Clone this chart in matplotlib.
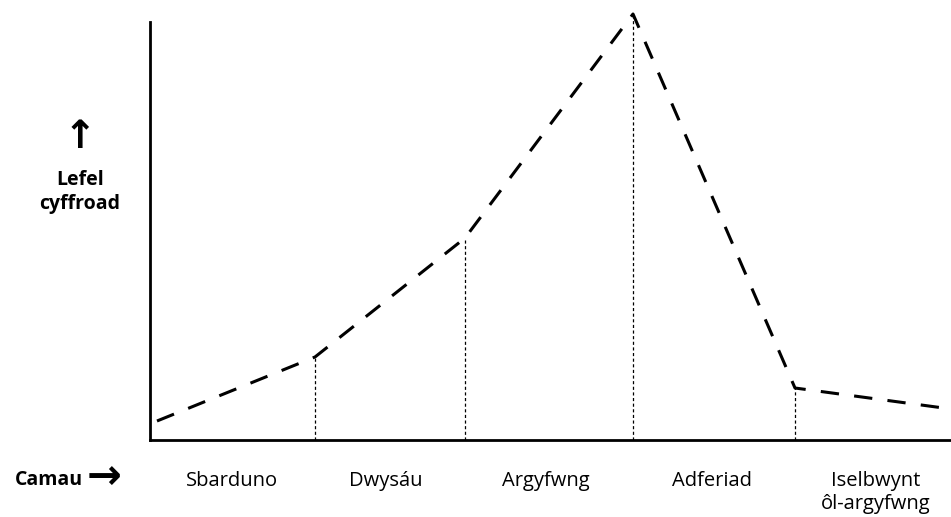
import matplotlib.pyplot as plt

# stage labels and the level curve (x, y)
stages = ["Sbarduno", "Dwysáu", "Argyfwng", "Adferiad", "Iselbwynt\nôl-argyfwng"]
stage_x = [82, 236, 396, 562, 726]
curve_x = [7, 165, 315, 483, 645, 801]
curve_y = [19, 83, 202, 426, 52, 31]
# stage boundaries (dotted drop lines)
bound_idx = [1, 2, 3, 4]

plt.rcParams['font.family'] = ['Open Sans', 'DejaVu Sans']

fig = plt.figure(figsize=(9.51, 5.17), dpi=100)
ax = fig.add_axes([150 / 951, 77 / 517, 801 / 951, 418 / 517])
ax.set_xlim(0, 801)
ax.set_ylim(0, 418)

ax.plot(curve_x, curve_y, color='black', lw=2.2, dashes=(6, 5), clip_on=False)
for i in bound_idx:
    ax.plot([curve_x[i], curve_x[i]], [0, curve_y[i]], color='black', lw=0.9,
            dashes=(2.5, 2), clip_on=False)

for s in ['top', 'right']:
    ax.spines[s].set_visible(False)
for s in ['left', 'bottom']:
    ax.spines[s].set_linewidth(2)
ax.set_xticks([])
ax.set_yticks([])

# stage names under the axis, one baseline per line
for lab, x in zip(stages, stage_x):
    for k, line in enumerate(lab.split("\n")):
        ax.text(x, -46 - 23 * k, line, ha='center', va='baseline', fontsize=14.5)

# axis captions
fig.text(49 / 951, 1 - 485 / 517, "Camau", ha='center', va='baseline',
         fontsize=14, fontweight='bold')
fig.text(104 / 951, 1 - 477 / 517, "→", ha='center', va='center',
         fontsize=30, fontweight='bold', family='DejaVu Sans')
fig.text(80 / 951, 1 - 137 / 517, "↑", ha='center', va='center',
         fontsize=28, fontweight='bold', family='DejaVu Sans')
fig.text(80 / 951, 1 - 185 / 517, "Lefel", ha='center', va='baseline',
         fontsize=14, fontweight='bold')
fig.text(80 / 951, 1 - 209 / 517, "cyffroad", ha='center', va='baseline',
         fontsize=14, fontweight='bold')

fig.savefig("out.png", dpi=100)
